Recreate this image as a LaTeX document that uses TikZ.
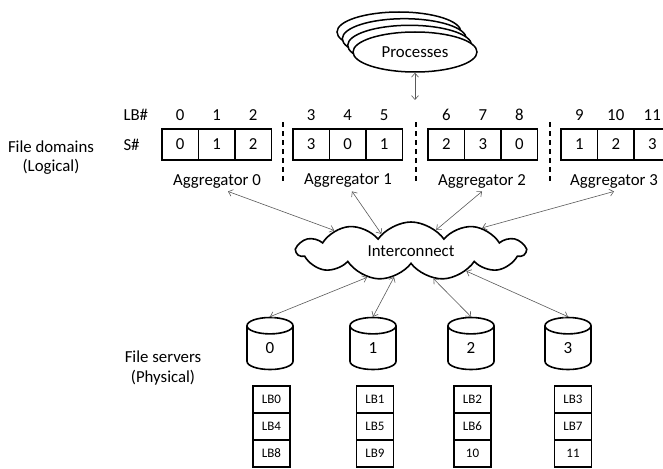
\documentclass[tikz,border=0pt]{standalone}
\usepackage{fontspec}
\setmainfont{Carlito}
\usetikzlibrary{shapes.geometric,shapes.symbols,arrows.meta}

\begin{document}
\begin{tikzpicture}[x=1pt, y=-1pt,
    lbl/.style={font=\fontsize{16.8}{18}\selectfont},
    cell/.style={draw, line width=1.6pt, minimum width=36.5pt, minimum height=31pt, inner sep=0pt, font=\fontsize{16.8}{18}\selectfont},
    blk/.style={draw, line width=1.6pt, minimum width=37pt, minimum height=27pt, inner sep=0pt, font=\fontsize{13}{14}\selectfont},
    proc/.style={ellipse, draw, fill=white, line width=1.5pt, minimum width=124pt, minimum height=40pt},
    disk/.style={cylinder, shape border rotate=90, draw, line width=1.6pt, aspect=1.9, minimum width=46pt, minimum height=52pt, inner sep=0pt, font=\fontsize{17}{18}\selectfont},
    link/.style={draw=black!65, line width=0.6pt, {Straight Barb[length=4pt,width=7pt]}-{Straight Barb[length=4pt,width=7pt]}},
    sep/.style={line width=1.2pt, dash pattern=on 5pt off 4pt}]
    \useasboundingbox (0,0) rectangle (663,468);
    % Processes
    \node (p3) at (399,32) [proc] {};
    \node (p2) at (404.3,38.7) [proc] {};
    \node (p1) at (409.7,45.3) [proc] {};
    \node (p0) at (415,52) [proc, lbl] {Processes};
    \coordinate (top) at (415,100);
    % Row labels
    \node (lb) at (120,115) [lbl, anchor=west] {LB\#};
    \node (sn) at (120,145) [lbl, anchor=west] {S\#};
    \node (fd) at (51,147) [lbl] {File domains};
    \node (fdl) at (51,167) [lbl] {(Logical)};
    % Logical blocks
    \node (l0) at (180.25,115) [lbl] {0};
    \node (l1) at (216.75,115) [lbl] {1};
    \node (l2) at (253.25,115) [lbl] {2};
    \node (l3) at (311.25,115) [lbl] {3};
    \node (l4) at (347.75,115) [lbl] {4};
    \node (l5) at (384.25,115) [lbl] {5};
    \node (l6) at (446.25,115) [lbl] {6};
    \node (l7) at (482.75,115) [lbl] {7};
    \node (l8) at (519.25,115) [lbl] {8};
    \node (l9) at (579.25,115) [lbl] {9};
    \node (l10) at (615.75,115) [lbl] {10};
    \node (l11) at (652.25,115) [lbl] {11};
    \node (s0) at (180.25,144.5) [cell] {0};
    \node (s1) at (216.75,144.5) [cell] {1};
    \node (s2) at (253.25,144.5) [cell] {2};
    \node (s3) at (311.25,144.5) [cell] {3};
    \node (s4) at (347.75,144.5) [cell] {0};
    \node (s5) at (384.25,144.5) [cell] {1};
    \node (s6) at (446.25,144.5) [cell] {2};
    \node (s7) at (482.75,144.5) [cell] {3};
    \node (s8) at (519.25,144.5) [cell] {0};
    \node (s9) at (579.25,144.5) [cell] {1};
    \node (s10) at (615.75,144.5) [cell] {2};
    \node (s11) at (652.25,144.5) [cell] {3};
    \draw[sep] (283,122) -- (283,184);
    \draw[sep] (416,122) -- (416,184);
    \draw[sep] (550,122) -- (550,184);
    % Aggregators
    \node (a0) at (217,181) [lbl] {Aggregator 0};
    \node (a1) at (348,181) [lbl] {Aggregator 1};
    \node (a2) at (482,181) [lbl] {Aggregator 2};
    \node (a3) at (614,181) [lbl] {Aggregator 3};
    % Network
    \node (ic) at (411,251) [cloud, cloud puffs=11, cloud puff arc=110, aspect=4, draw, line width=1.6pt, minimum width=228pt, minimum height=58pt, lbl] {Interconnect};
    % File servers
    \node (fs) at (163,357) [lbl] {File servers};
    \node (fsp) at (163,378) [lbl] {(Physical)};
    \node (d0) at (270,348) [disk] {0};
    \node (d1) at (373,348) [disk] {1};
    \node (d2) at (471,348) [disk] {2};
    \node (d3) at (568,348) [disk] {3};
    \node (b0) at (271.5,399.5) [blk] {LB0};
    \node (b4) at (271.5,426.5) [blk] {LB4};
    \node (b8) at (271.5,453.5) [blk] {LB8};
    \node (b1) at (375,399.5) [blk] {LB1};
    \node (b5) at (375,426.5) [blk] {LB5};
    \node (b9) at (375,453.5) [blk] {LB9};
    \node (b2) at (472.5,399.5) [blk] {LB2};
    \node (b6) at (472.5,426.5) [blk] {LB6};
    \node (b10) at (472.5,453.5) [blk] {10};
    \node (b3) at (573,399.5) [blk] {LB3};
    \node (b7) at (573,426.5) [blk] {LB7};
    \node (b11) at (573,453.5) [blk] {11};
    % Links
    \draw[link] (p0) -- (top);
    \draw[link] ([xshift=11pt]a0.south) -- (ic.165);
    \draw[link] ([xshift=4pt]a1.south) -- (ic.150);
    \draw[link] (a2.south) -- (ic.40);
    \draw[link] (a3.south) -- (ic.18);
    \draw[link] (ic.-149) -- (d0.north);
    \draw[link] (ic.-123) -- (d1.north);
    \draw[link] (ic.-51) -- (d2.north);
    \draw[link] (ic.-20) -- (d3.north);
\end{tikzpicture}
\end{document}
